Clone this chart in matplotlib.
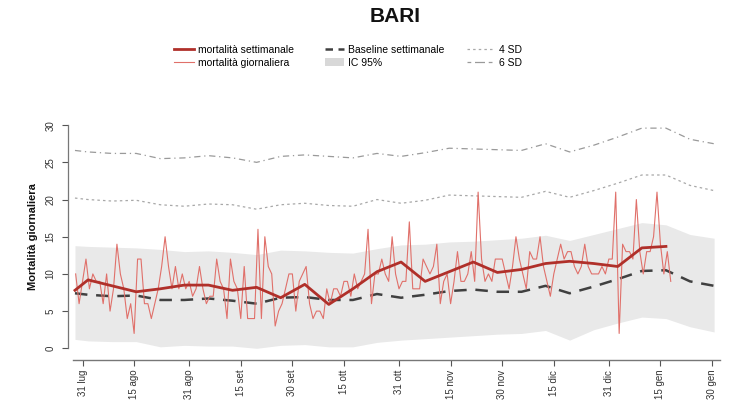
import matplotlib
matplotlib.use("Agg")
import matplotlib.pyplot as plt
from matplotlib.lines import Line2D
from matplotlib.patches import Patch

plt.rcParams['font.family'] = ['Liberation Sans', 'DejaVu Sans']

# ---------------- data (day offsets from 31 July) ----------------
daily_start = -2
daily_values = [10, 6, 9, 12, 8, 10, 9, 9, 6, 10, 5, 8, 14, 10, 8, 4, 6, 2, 12, 12,
                6, 6, 4, 6, 8, 11, 15, 11, 8, 11, 8, 10, 8, 9, 7, 8, 11, 8, 6, 7,
                7, 12, 9, 8, 4, 12, 9, 8, 4, 11, 4, 4, 4, 16, 4, 15, 11, 10, 3, 5,
                6, 8, 10, 10, 5, 9, 10, 11, 6, 4, 5, 5, 4, 8, 6, 8, 8, 7, 9, 9,
                7, 10, 8, 9, 10, 16, 6, 10, 10, 12, 10, 9, 15, 10, 8, 9, 9, 17, 8, 8,
                8, 12, 11, 10, 11, 14, 6, 9, 10, 6, 9, 13, 9, 9, 10, 13, 9, 21, 12, 9,
                10, 9, 12, 12, 12, 10, 8, 11, 15, 12, 10, 8, 13, 12, 12, 15, 11, 9, 7, 10,
                12, 14, 12, 13, 13, 11, 10, 11, 14, 11, 10, 10, 10, 11, 10, 12, 12, 21, 2, 14,
                13, 13, 12, 20, 13, 10, 13, 13, 15, 21, 14, 10, 13, 9]
daily_days = list(range(daily_start, daily_start + len(daily_values)))

week_days = [-2.2, 1.6, 8.6, 15.6, 22.6, 29.6, 36.6, 43.6, 50.6, 57.6, 64.6, 71.6, 78.6,
             85.6, 92.6, 99.6, 106.6, 113.6, 120.6, 127.6, 134.6, 141.6, 148.6, 155.6,
             162.6, 169.6]
weekly_mort = [7.8, 9.2, 8.4, 7.6, 8.0, 8.5, 8.5, 7.8, 8.2, 6.8, 8.6, 5.9, 8.0, 10.3,
               11.6, 9.0, 10.3, 11.6, 10.2, 10.6, 11.4, 11.7, 11.4, 11.0, 13.5, 13.7]

base_days = week_days + [176.6, 183.6]
baseline = [7.4, 7.2, 7.0, 7.1, 6.5, 6.5, 6.7, 6.4, 6.0, 6.8, 6.9, 6.5, 6.5, 7.3,
            6.8, 7.2, 7.7, 7.9, 7.6, 7.6, 8.4, 7.4, 8.3, 9.3, 10.4, 10.5, 9.0, 8.4]
sd4 = [20.2, 20.0, 19.8, 19.9, 19.3, 19.1, 19.4, 19.3, 18.7, 19.3, 19.5, 19.2, 19.1, 20.0,
       19.5, 19.9, 20.6, 20.5, 20.4, 20.3, 21.1, 20.3, 21.2, 22.2, 23.3, 23.3, 21.9, 21.2]
sd6 = [26.6, 26.4, 26.2, 26.2, 25.5, 25.6, 25.9, 25.6, 25.0, 25.8, 26.0, 25.8, 25.6, 26.2,
       25.8, 26.3, 26.9, 26.8, 26.7, 26.6, 27.5, 26.4, 27.3, 28.4, 29.6, 29.6, 28.1, 27.5]
ic_upper = [13.8, 13.7, 13.6, 13.5, 13.3, 13.0, 13.1, 12.9, 12.6, 13.2, 13.1, 12.9, 12.8, 13.4,
            13.9, 14.0, 14.3, 14.4, 14.6, 14.8, 15.2, 14.5, 15.3, 16.1, 16.9, 16.6, 15.3, 14.8]
ic_lower = [1.2, 1.0, 0.9, 0.9, 0.2, 0.4, 0.3, 0.3, 0.0, 0.4, 0.5, 0.2, 0.2, 0.8,
            1.1, 1.3, 1.5, 1.7, 1.9, 2.0, 2.4, 1.1, 2.5, 3.4, 4.2, 4.0, 2.9, 2.2]

tick_days = [0, 15, 31, 46, 61, 76, 92, 107, 122, 137, 153, 168, 183]
tick_labels = ['31 lug', '15 ago', '31 ago', '15 set', '30 set', '15 ott', '31 ott',
               '15 nov', '30 nov', '15 dic', '31 dic', '15 gen', '30 gen']
y_ticks = [0, 5, 10, 15, 20, 25, 30]

# ---------------- figure ----------------
W, H = 735, 416
fig = plt.figure(figsize=(W / 100, H / 100), dpi=100)
ax = fig.add_axes([72.9 / W, (H - 360) / H, (719.6 - 72.9) / W, (360 - 114) / H])

c_week = '#b0302a'
c_day = '#e0706a'
c_base = '#404040'
c_band = '#e9e9e9'
c_sd = '#9a9a9a'

ax.fill_between(base_days, ic_lower, ic_upper, color=c_band, lw=0, zorder=1)
ax.plot(base_days, sd4, color='#a8a8a8', lw=0.9, ls=(0, (2, 2.5)), zorder=2)
ax.plot(base_days, sd6, color=c_sd, lw=0.9, ls=(0, (5, 3, 1, 3)), zorder=2)
ax.plot(base_days, baseline, color=c_base, lw=1.8, ls=(0, (5, 3.5)), zorder=3)
ax.plot(daily_days, daily_values, color=c_day, lw=0.8, zorder=4)
ax.plot(week_days, weekly_mort, color=c_week, lw=2.0, zorder=5)

ax.set_xlim(-2.8, 185.2)
ax.set_ylim(-1.57, 31.5)

for s in ['top', 'right']:
    ax.spines[s].set_visible(False)
ax.spines['left'].set_bounds(0, 30)
ax.spines['left'].set_position(('outward', 3.5))
ax.spines['left'].set_color('#777777')
ax.spines['bottom'].set_color('#777777')
ax.spines['left'].set_linewidth(0.9)
ax.spines['bottom'].set_linewidth(1.0)

ax.set_yticks(y_ticks)
ax.set_yticklabels([str(v) for v in y_ticks], rotation=90, va='center')
ax.set_xticks(tick_days)
ax.set_xticklabels(tick_labels, rotation=90)
ax.tick_params(axis='both', labelsize=7, colors='#555555', labelcolor='#333333',
               length=4, width=0.8)
ax.tick_params(axis='y', pad=5)
ax.tick_params(axis='x', pad=3)

ax.set_ylabel('Mortalità giornaliera', fontsize=8, fontweight='bold', color='#111111')
ax.yaxis.set_label_coords((38 - 72.9) / 646.7, 0.5)

fig.text(395 / W, 1 - 17 / H, 'BARI', ha='center', va='center', fontsize=15,
         fontweight='bold', color='#111111')

# ---------------- legend ----------------
leg_kw = dict(frameon=False, fontsize=7.5, handletextpad=0.4, labelspacing=0.25,
              borderaxespad=0, borderpad=0, loc='upper left')
h1 = [Line2D([], [], color=c_week, lw=2.0), Line2D([], [], color=c_day, lw=0.8)]
fig.legend(h1, ['mortalità settimanale', 'mortalità giornaliera'],
           bbox_to_anchor=(174 / W, 1 - 45 / H), handlelength=1.9, **leg_kw)
h2 = [Line2D([], [], color=c_base, lw=1.8, ls=(0, (3, 2.2))),
      Patch(facecolor='#d8d8d8', edgecolor='none')]
fig.legend(h2, ['Baseline settimanale', 'IC 95%'],
           bbox_to_anchor=(325 / W, 1 - 45 / H), handlelength=1.8, **leg_kw)
h3 = [Line2D([], [], color='#a8a8a8', lw=0.9, ls=(0, (2, 2.5))),
      Line2D([], [], color=c_sd, lw=0.9, ls=(0, (3, 3, 8, 3)))]
fig.legend(h3, ['4 SD', '6 SD'],
           bbox_to_anchor=(467 / W, 1 - 45 / H), handlelength=2.7, **leg_kw)

fig.savefig('out.png', dpi=100, facecolor='white')
